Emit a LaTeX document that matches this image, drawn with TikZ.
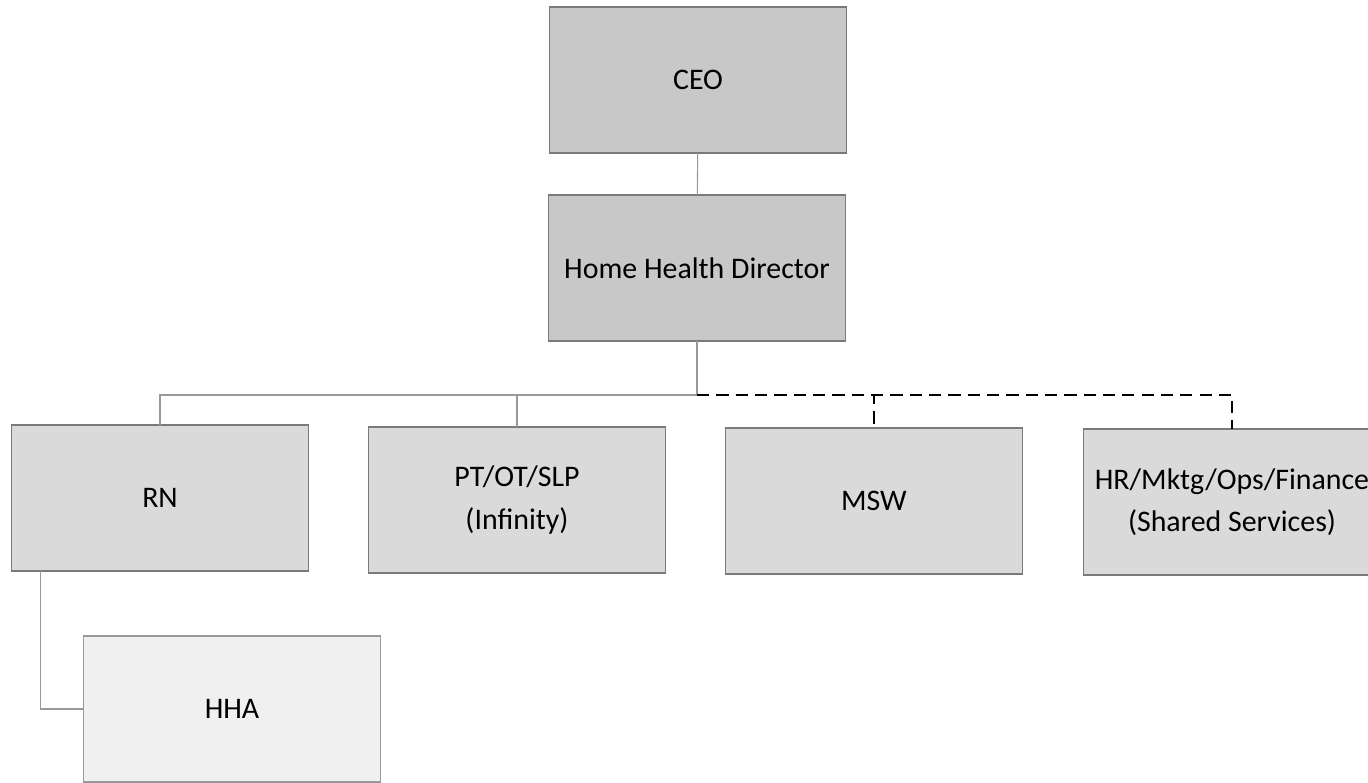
\documentclass[tikz,border=0pt]{standalone}
\usepackage{fontspec}
\setmainfont{Carlito}
\usepackage{tikz}
\usetikzlibrary{positioning,calc}

\definecolor{topgray}{HTML}{C8C8C8}
\definecolor{midgray}{HTML}{DADADA}
\definecolor{lowgray}{HTML}{F0F0F0}
\definecolor{edgegray}{HTML}{7A7A7A}
\definecolor{linegray}{HTML}{999999}

\begin{document}
\begin{tikzpicture}[
x=0.02cm, y=-0.02cm,
box/.style={
  draw=edgegray,
  line width=0.6pt,
  rectangle,
  minimum width=5.94cm,
  minimum height=2.92cm,
  inner sep=0pt,
  outer sep=0pt,
  align=center,
  font=\fontsize{17}{24}\selectfont
  },
topbox/.style={box, fill=topgray},
midbox/.style={box, fill=midgray},
lowbox/.style={box, fill=lowgray, draw=linegray},
link/.style={draw=linegray, line width=0.6pt},
dotted link/.style={draw=black, line width=1.5pt, dash pattern=on 7pt off 4pt}
]
\useasboundingbox (0,0) rectangle (1368,783);
\begin{scope}
\clip (0,0) rectangle (1368,783);

\node[topbox] (ceo) at (698,80) {CEO};
\node[topbox] (hhd) at (697,268) {Home Health Director};

\node[midbox] (rn)  at (160,498) {RN};
\node[midbox] (pt)  at (517,500) {PT/OT/SLP\\(Infinity)};
\node[midbox] (msw) at (874,501) {MSW};
\node[midbox] (hr)  at (1232,502) {HR/Mktg/Ops/Finance\\(Shared Services)};

\node[lowbox] (hha) at (232,709) {HHA};

\coordinate (split) at (697,395);

% solid lines
\draw[link] (ceo) -- (hhd);
\draw[link] (hhd) -- (split);
\draw[link] (split) -| (rn);
\draw[link] (split) -| (pt);
\draw[link] ([xshift=0.58cm]rn.south west) |- (hha);

% dashed lines
\draw[dotted link] (split) -| (msw);
\draw[dotted link] (split) -| (hr);
\end{scope}
\end{tikzpicture}
\end{document}
